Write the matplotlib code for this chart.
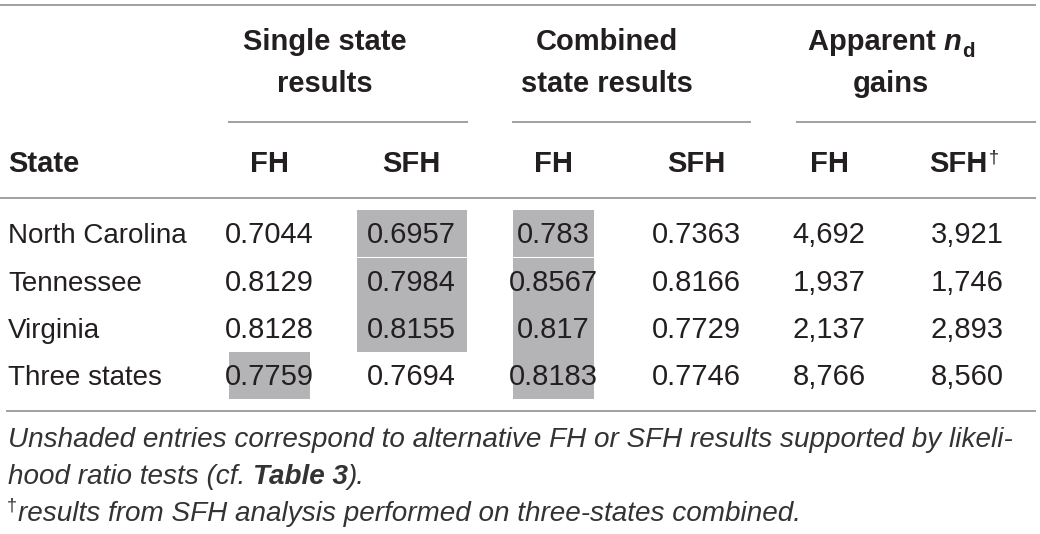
import matplotlib
matplotlib.use("Agg")
import matplotlib.pyplot as plt
from matplotlib.patches import Rectangle

# Table content
states = ["North Carolina", "Tennessee", "Virginia", "Three states"]
single_fh = ["0.7044", "0.8129", "0.8128", "0.7759"]
single_sfh = ["0.6957", "0.7984", "0.8155", "0.7694"]
comb_fh = ["0.783", "0.8567", "0.817", "0.8183"]
comb_sfh = ["0.7363", "0.8166", "0.7729", "0.7746"]
gain_fh = ["4,692", "1,937", "2,137", "8,766"]
gain_sfh = ["3,921", "1,746", "2,893", "8,560"]
sub_headers = ["FH", "SFH", "FH", "SFH", "FH", "SFH"]
# shaded cells (row, column index into the 6 value columns)
shaded = [(0, 1), (1, 1), (2, 1), (0, 2), (1, 2), (2, 2), (3, 2), (3, 0)]
note1 = "Unshaded entries correspond to alternative FH or SFH results supported by likeli-"
note3 = "results from SFH analysis performed on three-states combined."

columns = [single_fh, single_sfh, comb_fh, comb_sfh, gain_fh, gain_sfh]

# layout (pixels)
W, H = 1040, 534
col_x = [269, 411, 553, 696, 829, 967]
head_x = [269, 411, 553, 696, 829, 958]
col_left = [229, 357, 513, 640, 797, 920]
col_right = [310, 467, 594, 750, 870, 1035]
row_base = [243, 291, 338, 385]
row_h = 47
txt = "#231f20"
note_c = "#333333"
rule = "#a0a0a0"
shade = "#b4b4b6"
fs = 20      # texte courant
fs_num = 21  # nombres
fs_b = 21    # en-têtes en gras
fs_n = 20.1  # notes

plt.rcParams["font.family"] = ["Liberation Sans", "DejaVu Sans"]

fig = plt.figure(figsize=(W / 100, H / 100), dpi=100)
ax = fig.add_axes([0, 0, 1, 1])
ax.set_xlim(0, W)
ax.set_ylim(H, 0)
ax.axis("off")
fig.canvas.draw()
renderer = fig.canvas.get_renderer()


def put(x, y, s, **kw):
    """écrit un texte (ligne de base en y) et renvoie l'abscisse de son bord droit"""
    kw.setdefault("va", "baseline")
    t = ax.text(x, y, s, color=kw.pop("color", txt), fontsize=kw.pop("fontsize", fs), **kw)
    bb = t.get_window_extent(renderer=renderer)
    return ax.transData.inverted().transform((bb.x1, bb.y0))[0]


def width(s, **kw):
    t = ax.text(0, 0, s, **kw)
    w = t.get_window_extent(renderer=renderer).width
    t.remove()
    return w


# shading
for r, c in shaded:
    top = row_base[r] - 10 - row_h / 2
    ax.add_patch(Rectangle((col_left[c], top), col_right[c] - col_left[c], row_h,
                           color=shade, lw=0, zorder=0))

# rules
ax.plot([1, 1035], [5, 5], color=rule, lw=1.4)
ax.plot([1, 1035], [198, 198], color=rule, lw=1.4)
ax.plot([7, 1035], [411, 411], color=rule, lw=1.4)
for x0, x1 in [(229, 467), (513, 750), (797, 1035)]:
    ax.plot([x0, x1], [122, 122], color=rule, lw=1.4)

# group headers
bold = dict(fontweight="bold", ha="center", fontsize=fs_b)
put(325, 50, "Single state", **bold)
put(325, 92, "results", **bold)
put(607, 50, "Combined", **bold)
put(607, 92, "state results", **bold)
put(891, 92, "gains", **bold)
# "Apparent n_d" assemblé morceau par morceau
w1 = width("Apparent ", fontsize=fs_b, fontweight="bold")
w2 = width("n", fontsize=fs_b, fontweight="bold", style="italic")
w3 = width("d", fontsize=fs_b * 0.7, fontweight="bold")
x0 = 891 - (w1 + w2 + w3) / 2
x0 = put(x0, 50, "Apparent ", fontweight="bold", fontsize=fs_b)
x0 = put(x0, 50, "n", fontweight="bold", style="italic", fontsize=fs_b)
put(x0 + 1, 57, "d", fontweight="bold", fontsize=fs_b * 0.7)

# column headers
put(8, 172, "State", fontweight="bold", fontsize=fs_b)
for x, h in zip(head_x, sub_headers):
    put(x, 172, h, **bold)
put(994, 162, "†", fontsize=13, ha="center")

# body
for i, s in enumerate(states):
    put(8, row_base[i], s)
    for x, col in zip(col_x, columns):
        put(x, row_base[i], col[i], ha="center", fontsize=fs_num)

# notes
put(8, 447, note1, style="italic", color=note_c, fontsize=fs_n)
x0 = put(8, 484, "hood ratio tests (cf. ", style="italic", color=note_c, fontsize=fs_n)
x0 = put(x0, 484, "Table 3", style="italic", fontweight="bold", color=note_c, fontsize=fs_n)
put(x0, 484, ").", style="italic", color=note_c, fontsize=fs_n)
x0 = put(7, 511, "†", fontsize=13, color=note_c)
put(x0 + 1, 521, note3, style="italic", color=note_c, fontsize=fs_n)

fig.savefig("out.png", dpi=100)
